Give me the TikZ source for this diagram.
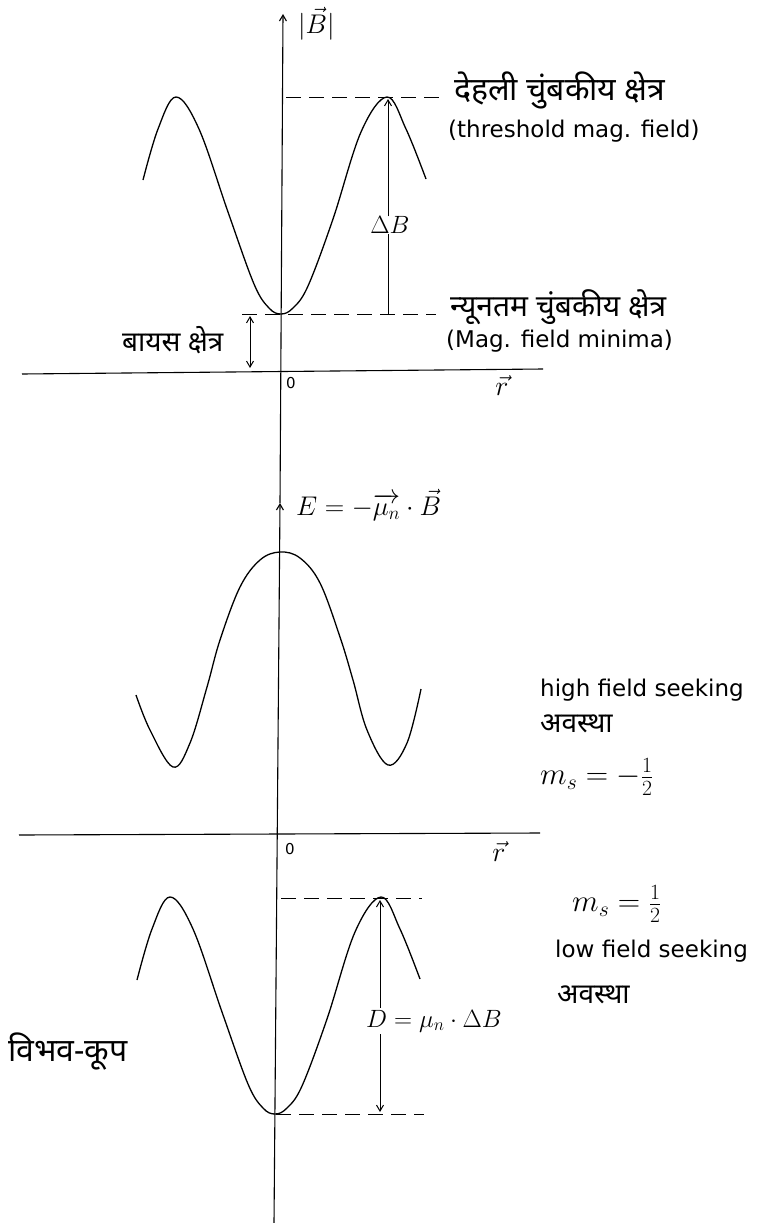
\RequirePackage{fix-cm}
\documentclass[tikz,border=0pt]{standalone}
\usepackage{fontspec}
\usepackage{amsmath}
\setmainfont{DejaVu Sans}
\newfontfamily\hindifont[Script=Devanagari]{Noto Sans}
\usetikzlibrary{arrows.meta}

\begin{document}
\begin{tikzpicture}[x=1pt, y=-1pt,
        curve/.style={line width=1.3pt, line join=round},
        axis/.style={line width=1.1pt},
        guide/.style={line width=1pt, dash pattern=on 15pt off 8pt},
        dim/.style={line width=1pt},
        arr/.style={-{Straight Barb[length=6pt, width=7pt]}},
        dbl/.style={{Straight Barb[length=6pt, width=7pt]}-{Straight Barb[length=6pt, width=7pt]}},
        hin/.style={font=\hindifont\fontsize{28}{32}\selectfont, inner sep=0pt, anchor=west},
        hinbig/.style={hin, font=\hindifont\fontsize{32}{36}\selectfont},
        eng/.style={font=\fontsize{23}{27}\selectfont, inner sep=0pt, anchor=west},
        lbl/.style={font=\fontsize{25}{29}\selectfont, inner sep=0pt},
        spin/.style={font=\fontsize{31}{35}\selectfont, inner sep=0pt, anchor=west}]
      % Pagina: 756 x 1223 (1 unidad = 1 px, eje y hacia abajo)
      \useasboundingbox (0,0) rectangle (756,1223);
      % Eje vertical comun |B| y E
      \coordinate (Btip) at (283,14);
      \coordinate (Etip) at (280,503);
      \coordinate (ybot) at (274,1223);
      \draw[axis, arr] (ybot) -- (Etip);
      \draw[axis, arr] (Etip) -- (Btip);
      \node[lbl, anchor=west, font=\fontsize{27}{31}\selectfont] (Blab) at (298,24) {$|\vec{B}|$};
      % Eje r superior
      \coordinate (r1l) at (22,374);
      \coordinate (r1r) at (543,369);
      \draw[axis] (r1l) -- (r1r);
      \node[font=\fontsize{15}{17}\selectfont] (O1) at (291,383) {0};
      \node[lbl, font=\fontsize{28}{32}\selectfont] (r1) at (502,386) {$\vec{r}$};
      % Pozos de |B| (arriba) y de energia (abajo), misma forma
      \foreach \cx/\cy in {281/314, 275/1114}
        \draw[curve, shift={(\cx,\cy)}] plot[smooth, tension=0.6] coordinates {(-138,-134) (-123,-185) (-105,-217) (-82,-185) (-53,-102) (-27,-30) (-12,-6) (0,0) (12,-6) (27,-28) (52,-95) (80,-182) (106,-217) (125,-185) (145,-135)};
      % Niveles umbral y minimo
      \coordinate (thrL) at (286,97);
      \coordinate (thrR) at (439,97);
      \coordinate (minL) at (242,314);
      \coordinate (minR) at (436,314);
      \draw[guide] (thrL) -- (thrR);
      \draw[guide] (minL) -- (minR);
      % Flecha Delta B
      \coordinate (dBtop) at (388,99);
      \coordinate (dBbot) at (388,314);
      \node[lbl] (dB) at (390,225) {$\Delta B$};
      \draw[dim, arr] (dBtop |- dB.north) -- (dBtop);
      \draw[dim] (dBbot) -- (dBbot |- dB.south);
      % Campo de bias
      \coordinate (biasT) at (250,316);
      \coordinate (biasB) at (250,368);
      \draw[dim, dbl] (biasT) -- (biasB);
      \node[hin] (biasHi) at (122,340) {बायस क्षेत्र};
      \node[hinbig] (thrHi) at (454,90) {देहली चुंबकीय क्षेत्र};
      \node[eng] (thrEn) at (448,131) {(threshold mag. field)};
      \node[hin, font=\hindifont\fontsize{30}{34}\selectfont] (minHi) at (450,307) {न्यूनतम चुंबकीय क्षेत्र};
      \node[eng] (minEn) at (446,341) {(Mag. field minima)};
      % Energia E, estado high field seeking
      \node[lbl, anchor=west, font=\fontsize{27}{31}\selectfont] (Elab) at (296,505) {$E=-\overrightarrow{\mu_n}\cdot\vec{B}$};
      \draw[curve, shift={(280,552)}] plot[smooth, tension=0.6] coordinates {(-144,143) (-130,178) (-107,215) (-90,191) (-73,135) (-60,88) (-40,35) (-20,8) (0,0) (20,6) (40,31) (60,85) (73,128) (87,178) (108,213) (127,191) (141,137)};
      \node[eng] (hfs) at (540,690) {high field seeking};
      \node[hin] (hfsHi) at (540,724) {अवस्था};
      \node[spin] (ms1) at (540,777) {$m_s=-\frac{1}{2}$};
      % Eje r inferior
      \coordinate (r2l) at (19,835);
      \coordinate (r2r) at (540,833);
      \draw[axis] (r2l) -- (r2r);
      \node[font=\fontsize{15}{17}\selectfont] (O2) at (290,849) {0};
      \node[lbl, font=\fontsize{28}{32}\selectfont] (r2) at (499,852) {$\vec{r}$};
      % Estado low field seeking
      \node[spin] (ms2) at (572,904) {$m_s=\frac{1}{2}$};
      \node[eng] (lfs) at (555,951) {low field seeking};
      \node[hin] (lfsHi) at (557,995) {अवस्था};
      % Profundidad del pozo D
      \coordinate (wtopL) at (281,898);
      \coordinate (wtopR) at (422,898);
      \coordinate (wbotL) at (276,1114);
      \coordinate (wbotR) at (424,1114);
      \draw[guide] (wtopL) -- (wtopR);
      \draw[guide] (wbotL) -- (wbotR);
      \coordinate (Dtop) at (380,900);
      \coordinate (Dbot) at (380,1112);
      \node[lbl, anchor=west] (Dlab) at (366,1021) {$D=\mu_n\cdot\Delta B$};
      \draw[dim, arr, shorten <=2pt] (Dtop |- Dlab.north) -- (Dtop);
      \draw[dim, arr, shorten <=2pt] (Dbot |- Dlab.south) -- (Dbot);
      \node[hinbig] (wellHi) at (8,1052) {विभव-कूप};
    \end{tikzpicture}
\end{document}
